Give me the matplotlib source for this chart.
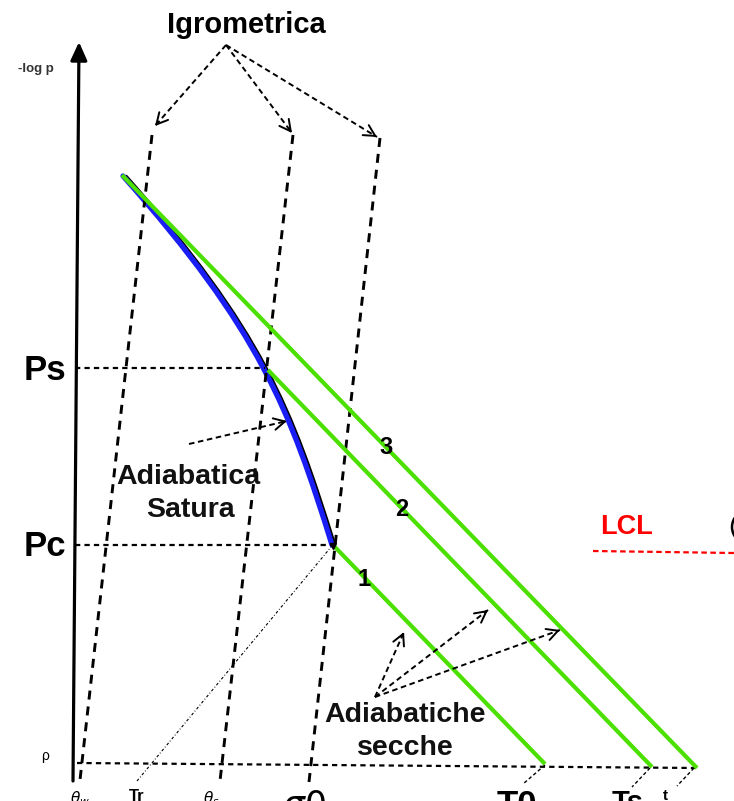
import numpy as np
import matplotlib
matplotlib.use("Agg")
import matplotlib.pyplot as plt
from matplotlib.patches import Circle, PathPatch
from matplotlib.path import Path

plt.rcParams["font.family"] = ["Liberation Sans", "DejaVu Sans"]
plt.rcParams["lines.scale_dashes"] = False

# ---- diagram content (screen coordinates of the thermodynamic sketch) ----
# pressure levels marked on the -log p axis
level_names = ["Ps", "Pc"]
level_y = [368, 545]
level_end_x = [265, 333]          # where each level meets the parcel path

# lowest pressure level p (slightly tilted scan line)
p_line_x = [77, 697]
p_line_y = [763, 768]

# mixing-ratio (igrometric) lines: top and bottom ends
igro_top_x = [152, 293, 380]
igro_top_y = [135, 135, 138]
igro_bot_x = [80, 220, 309]
igro_bot_y = [780, 781, 782]

# dry adiabats 1, 2, 3 (start, end)
dry_x0 = [333, 268, 122]
dry_y0 = [545, 370, 175]
dry_x1 = [545, 652, 697]
dry_y1 = [764, 767, 768]
dry_labels = ["1", "2", "3"]
dry_label_x = [364, 402, 386]
dry_label_y = [580, 509, 448]

# saturated adiabat from the top down to Pc (cubic Bezier: end, control, control, end)
sat_x = [123, 260, 290, 332]
sat_y = [176, 330, 410, 545]

# projections of adiabat ends down to the T axis
proj_x0 = [545, 650, 694]
proj_y0 = [765, 768, 768]
proj_x1 = [523, 632, 677]
proj_y1 = [784, 787, 786]

# bottom axis labels
t_labels = [r"$\theta_w$", "Tr", r"$\theta_s$", r"$\sigma 0$", "T0", "Ts", "t"]
t_label_x = [80, 137, 211, 304, 517, 628, 665]
t_label_size = [11, 12, 11, 25, 25, 21, 11]

GREEN = "#4BE000"
BLUE = "#1A1EF5"

fig = plt.figure(figsize=(7.34, 8.01), dpi=100)
ax = fig.add_axes([0, 0, 1, 1])
ax.set_xlim(0, 734)
ax.set_ylim(801, 0)
ax.axis("off")


def dashed_arrow(x0, y0, x1, y1, lw=1.4):
    ax.plot([x0, x1], [y0, y1], color="k", lw=lw, dashes=(4, 2.6))
    d = np.array([x1 - x0, y1 - y0], dtype=float)
    d /= np.hypot(*d)
    ax.annotate("", xy=(x1, y1), xytext=(x1 - 3 * d[0], y1 - 3 * d[1]),
                arrowprops=dict(arrowstyle="->,head_length=0.8,head_width=0.42",
                                lw=lw, color="k", shrinkA=0, shrinkB=0))


# axes with arrows
ax.annotate("", xy=(79, 42), xytext=(73, 781),
            arrowprops=dict(arrowstyle="-|>,head_length=1.1,head_width=0.5",
                            lw=2.3, color="k", shrinkA=0, shrinkB=0))
ax.annotate("", xy=(738, 788), xytext=(73, 781),
            arrowprops=dict(arrowstyle="-|>,head_length=1.1,head_width=0.5",
                            lw=2.3, color="k", shrinkA=0, shrinkB=0))

# mixing-ratio lines
for xt, yt, xb, yb in zip(igro_top_x, igro_top_y, igro_bot_x, igro_bot_y):
    ax.plot([xt, xb], [yt, yb], color="k", lw=2.1, dashes=(6.5, 5))

# pressure levels
for y, xe in zip(level_y, level_end_x):
    ax.plot([75, xe], [y, y], color="k", lw=1.6, dashes=(3.8, 3))
ax.plot(p_line_x, p_line_y, color="k", lw=1.6, dashes=(3.8, 3))

# projections of adiabat ends to the axis
for a, b, c, d in zip(proj_x0, proj_y0, proj_x1, proj_y1):
    ax.plot([a, c], [b, d], color="k", lw=1.0, dashes=(2.5, 1.8))

# thin line from Pc to the axis
ax.plot([137, 331], [781, 547], color="k", lw=0.8, dashes=(2, 1.5, 0.6, 1.5))

# dry adiabats
for x0, y0, x1, y1 in zip(dry_x0, dry_y0, dry_x1, dry_y1):
    ax.plot([x0, x1], [y0, y1], color=GREEN, lw=3.0, solid_capstyle="butt")

# saturated adiabat with dark edge
codes = [Path.MOVETO, Path.CURVE4, Path.CURVE4, Path.CURVE4]
sat_verts = np.column_stack([sat_x, sat_y]).astype(float)
edge_path = Path(sat_verts + np.array([2.2, 0.0]), codes)
ax.add_patch(PathPatch(edge_path, fill=False, lw=3.0, edgecolor="k"))
ax.add_patch(PathPatch(Path(sat_verts, codes), fill=False, lw=3.8, edgecolor=BLUE,
                       capstyle="round"))
ax.plot([333], [546], marker="v", color="k", ms=5)

# labels of dry adiabats
for t, x, y in zip(dry_labels, dry_label_x, dry_label_y):
    ax.text(x, y, t, fontsize=17, fontweight="bold", ha="center", va="center")

# level labels
for name, y in zip(level_names, level_y):
    ax.text(45, y + 2, name, fontsize=25, fontweight="bold", ha="center", va="center")
ax.text(36, 69, "-log p", fontsize=9.5, fontweight="bold", ha="center", va="center",
        color="#333333")
ax.text(45, 756, "ρ", fontsize=10, ha="center", va="center")

# titles and annotations
ax.text(246, 25, "Igrometrica", fontsize=21, fontweight="bold", ha="center", va="center")
for xe, ye in [(155, 126), (292, 133), (377, 137)]:
    dashed_arrow(226, 45, xe, ye)

ax.text(188, 477, "Adiabatica", fontsize=20.5, fontweight="bold", ha="center", va="center",
        color="#111111")
ax.text(190, 510, "Satura", fontsize=20.5, fontweight="bold", ha="center", va="center",
        color="#111111")
dashed_arrow(189, 444, 287, 421)

ax.text(405, 715, "Adiabatiche", fontsize=20.5, fontweight="bold", ha="center",
        va="center", color="#111111")
ax.text(405, 748, "secche", fontsize=20.5, fontweight="bold", ha="center", va="center",
        color="#111111")
for xe, ye in [(404, 632), (488, 610), (560, 630)]:
    dashed_arrow(375, 697, xe, ye)

# LCL marker
ax.text(627, 527, "LCL", fontsize=19.5, fontweight="bold", ha="center", va="center",
        color="#FF0000")
ax.plot([593, 734], [551, 553], color="#FF0000", lw=1.6, dashes=(4, 2.5))
ax.add_patch(Circle((749, 527), 17, fill=False, lw=1.8, color="k"))

# bottom axis labels (partly beyond the lower edge)
for t, x, s in zip(t_labels, t_label_x, t_label_size):
    ax.text(x, 789, t, fontsize=s, fontweight="bold", ha="center", va="top")

fig.savefig("out.png", dpi=100)
